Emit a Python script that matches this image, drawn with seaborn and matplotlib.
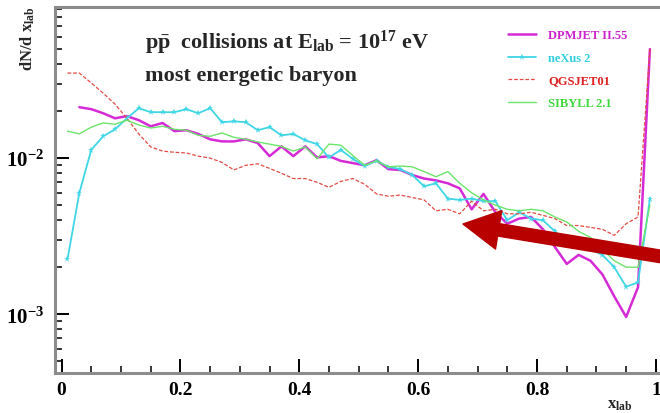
import numpy as np
import matplotlib
matplotlib.use("Agg")
import matplotlib.pyplot as plt
import matplotlib.ticker as mticker
import seaborn as sns

# -------------------------
# Data
# -------------------------
x_bins = [0.01, 0.03, 0.05, 0.07, 0.09, 0.11, 0.13, 0.15, 0.17, 0.19,
          0.21, 0.23, 0.25, 0.27, 0.29, 0.31, 0.33, 0.35, 0.37, 0.39,
          0.41, 0.43, 0.45, 0.47, 0.49, 0.51, 0.53, 0.55, 0.57, 0.59,
          0.61, 0.63, 0.65, 0.67, 0.69, 0.71, 0.73, 0.75, 0.77, 0.79,
          0.81, 0.83, 0.85, 0.87, 0.89, 0.91, 0.93, 0.95, 0.97, 0.99]

dpmjet = [0.0212, 0.0206, 0.0194, 0.0180, 0.0186, 0.0175, 0.0160, 0.0168, 0.0149, 0.0151,
          0.0143, 0.0132, 0.0128, 0.0128, 0.0132, 0.0125, 0.0103, 0.0119, 0.0103, 0.0119,
          0.0101, 0.0103, 0.0096, 0.0093, 0.0090, 0.0097, 0.0085, 0.0084, 0.0078, 0.0074,
          0.0072, 0.0069, 0.0064, 0.0047, 0.0059, 0.0045, 0.0038, 0.0041, 0.0042, 0.0035,
          0.0027, 0.0021, 0.0024, 0.0022, 0.0018, 0.0013, 0.00096, 0.00149, 0.050]

nexus = [0.00225, 0.0060, 0.0113, 0.0138, 0.0153, 0.0180, 0.0209, 0.0197, 0.0197, 0.0197,
         0.0206, 0.0194, 0.0209, 0.0170, 0.0172, 0.0170, 0.0151, 0.0158, 0.0140, 0.0143,
         0.0130, 0.0123, 0.0101, 0.0113, 0.0099, 0.0089, 0.0096, 0.0088, 0.0085, 0.0078,
         0.0066, 0.0069, 0.0055, 0.0054, 0.0055, 0.0053, 0.0053, 0.0040, 0.0045, 0.0041,
         0.0040, 0.0034, 0.0029, 0.0027, 0.0026, 0.0024, 0.0020, 0.0015, 0.0016, 0.0055]

qgsjet = [0.0351, 0.0351, 0.0303, 0.0261, 0.0222, 0.0180, 0.0143, 0.0118, 0.0111, 0.0109,
          0.0108, 0.0103, 0.0100, 0.0094, 0.0084, 0.0090, 0.0092, 0.0086, 0.0080, 0.0074,
          0.0074, 0.0070, 0.0065, 0.0071, 0.0074, 0.0068, 0.0059, 0.0057, 0.0058, 0.0056,
          0.0054, 0.0046, 0.0047, 0.0044, 0.0053, 0.0046, 0.0047, 0.0044, 0.0044, 0.0045,
          0.0043, 0.0041, 0.0037, 0.0037, 0.0036, 0.0035, 0.0032, 0.0038, 0.0042, 0.050]

sibyll = [0.0149, 0.0143, 0.0158, 0.0168, 0.0165, 0.0175, 0.0163, 0.0156, 0.0160, 0.0153,
          0.0151, 0.0140, 0.0138, 0.0145, 0.0136, 0.0132, 0.0127, 0.0123, 0.0119, 0.0111,
          0.0118, 0.0099, 0.0123, 0.0121, 0.0104, 0.0090, 0.0096, 0.0088, 0.0089, 0.0088,
          0.0082, 0.0076, 0.0082, 0.0069, 0.0060, 0.0054, 0.0050, 0.0047, 0.0046, 0.0047,
          0.0046, 0.0042, 0.0039, 0.0034, 0.0031, 0.0026, 0.0022, 0.0020, 0.0020, 0.0050]

labels = ["DPMJET II.55", "neXus 2", "QGSJET01", "SIBYLL 2.1"]
x_ticks = [0, 0.2, 0.4, 0.6, 0.8, 1]
x_tick_labels = ["0", "0.2", "0.4", "0.6", "0.8", "1"]

# -------------------------
# Style
# -------------------------
sns.set_style("white")
plt.rcParams["font.family"] = ["Liberation Serif", "DejaVu Serif"]
plt.rcParams["font.weight"] = "bold"
plt.rcParams["mathtext.fontset"] = "custom"
plt.rcParams["mathtext.rm"] = "Liberation Serif:bold"
plt.rcParams["mathtext.bf"] = "Liberation Serif:bold"
plt.rcParams["mathtext.it"] = "Liberation Serif:bold"
plt.rcParams["mathtext.default"] = "bf"

c_dpm, c_nex, c_qgs, c_sib = "#d62ad6", "#3fd6e6", "#e44a44", "#6ce46c"

fig = plt.figure(figsize=(6.6, 4.14), dpi=100)
ax = fig.add_axes([55 / 660, 40 / 414, 608 / 660, 366 / 414])

sns.lineplot(x=x_bins[1:], y=dpmjet, ax=ax, color=c_dpm, lw=1.8, label=labels[0], errorbar=None)
sns.lineplot(x=x_bins, y=nexus, ax=ax, color=c_nex, lw=1.3, marker="*", markersize=5,
             markeredgewidth=0, label=labels[1], errorbar=None)
sns.lineplot(x=x_bins, y=qgsjet, ax=ax, color=c_qgs, lw=0.9, ls=(0, (3, 1.5)), label=labels[2], errorbar=None)
sns.lineplot(x=x_bins, y=sibyll, ax=ax, color=c_sib, lw=1.0, label=labels[3], errorbar=None)

ax.set_yscale("log")
ax.set_xlim(-0.011, 1.012)
ax.set_ylim(4.2e-4, 0.093)

ax.set_xticks(x_ticks)
ax.set_xticklabels(x_tick_labels)
ax.xaxis.set_minor_locator(mticker.MultipleLocator(0.05))
ax.yaxis.set_major_formatter(mticker.FuncFormatter(
    lambda v, p: r"$10^{%d}$" % int(round(np.log10(v)))))
ax.yaxis.set_minor_formatter(mticker.NullFormatter())

ax.tick_params(axis="both", which="both", bottom=True, left=True, top=False, right=False)
ax.tick_params(axis="both", which="major", direction="in", length=10, width=1.4,
               colors="black", labelsize=14, pad=6)
ax.tick_params(axis="both", which="minor", direction="in", length=5, width=1.1, colors="black")
ax.tick_params(axis="y", which="major", labelsize=15, pad=8)

for side in ["left", "bottom", "top"]:
    ax.spines[side].set_color("#8c8c8c")
    ax.spines[side].set_linewidth(2.2)
ax.spines["right"].set_visible(False)
ax.set_xlabel("")
ax.set_ylabel("")

# axis titles
fig.text(28 / 660, 1 - 6 / 414, r"dN/d x$_{lab}$", rotation=90, ha="center", va="top", fontsize=12)
fig.text(620 / 660, 1 - 405 / 414, r"x$_{lab}$", ha="center", va="center", fontsize=12)

# annotation text
ax.text(145 / 660, 1 - 49 / 414, r"$p\bar{p}$  collisions at $E_{lab}$ = $10^{17}$ eV",
        transform=fig.transFigure, fontsize=16, va="baseline")
ax.text(145 / 660, 1 - 81 / 414, "most energetic baryon",
        transform=fig.transFigure, fontsize=16, va="baseline")

# legend
leg = ax.legend(loc="upper left", bbox_to_anchor=(497 / 660, 1 - 19 / 414),
                bbox_transform=fig.transFigure, frameon=False, fontsize=9,
                handlelength=2.2, handletextpad=1.0, labelspacing=0.85,
                labelcolor=["#cc22cc", "#33cfe0", "#dd1f1f", "#3fd83f"])

# red arrow
ax.annotate("", xy=(463, 414 - 225), xytext=(664, 414 - 258),
            xycoords="figure pixels", textcoords="figure pixels",
            arrowprops=dict(width=9, headwidth=28, headlength=26, color="#b80000", shrink=0))

fig.savefig("out.png", dpi=100)
